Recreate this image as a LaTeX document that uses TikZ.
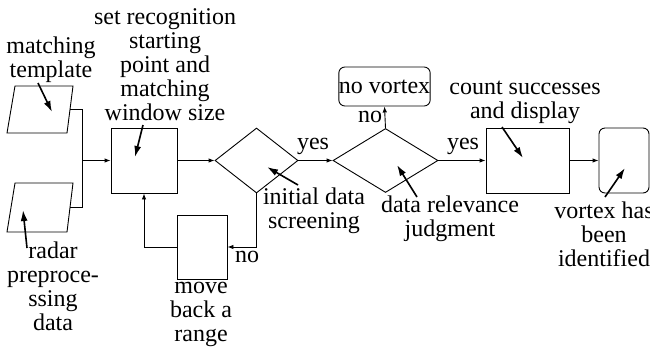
\documentclass[tikz,border=0pt]{standalone}
\usepackage{fontspec}
\setmainfont{Liberation Serif}
\usetikzlibrary{arrows.meta,shapes.geometric}

\tikzset{
  flowline/.style={line width=0.9pt,-{Latex[length=6pt,width=4.5pt]}},
  plainline/.style={line width=0.9pt},
  pointer/.style={line width=1.6pt,-{Latex[length=11pt,width=7pt]}},
  procbox/.style={draw,line width=0.9pt,rectangle,inner sep=0pt},
  endbox/.style={draw,line width=0.9pt,rectangle,rounded corners=6pt,inner sep=0pt},
  decision/.style={draw,line width=0.9pt,diamond,inner sep=0pt},
  inputline/.style={line width=0.9pt,line join=miter},
  lbl/.style={inner sep=0pt,align=center,font=\fontsize{24}{24}\selectfont},
  tag/.style={inner sep=0pt,font=\fontsize{24}{24}\selectfont},
}

\begin{document}
\begin{tikzpicture}[x=1pt,y=-1pt]
\useasboundingbox (0,0) rectangle (650,349);
\clip (0,0) rectangle (650,349);

% input data blocks (parallelograms)
\draw[inputline] (15,86) -- (73,86) -- (67,133) -- (7,133) -- cycle;
\coordinate (tplE) at (70,109.5);
\draw[inputline] (15,183) -- (73,183) -- (67,232) -- (7,232) -- cycle;
\coordinate (radE) at (70,207.5);

% process chain
\node[procbox,minimum width=66pt,minimum height=65pt] (setbox) at (144,160.5) {};
\node[decision,minimum width=83pt,minimum height=65pt] (dia1) at (256.5,160.5) {};
\node[decision,minimum width=105pt,minimum height=64pt] (dia2) at (385.5,160.5) {};
\node[endbox,minimum width=91pt,minimum height=39pt,font=\fontsize{24}{24}\selectfont]
  (novortex) at (384.5,86.5) {no vortex};
\node[procbox,minimum width=83pt,minimum height=65pt] (count) at (527.5,160.5) {};
\node[endbox,minimum width=50pt,minimum height=65pt] (final) at (624,160.5) {};
\node[procbox,minimum width=50pt,minimum height=64pt] (moveback) at (202,247) {};

% flow connectors
\coordinate (join) at (82,160.5);
\draw[plainline] (tplE) -| (join);
\draw[plainline] (radE) -| (join);
\draw[flowline] (join) -- (setbox.west);
\draw[flowline] (setbox.east) -- (dia1.west);
\draw[flowline] (dia1.east) -- (dia2.west);
\draw[flowline] (dia2.north) -- (novortex.south);
\draw[flowline] (dia2.east) -- (count.west);
\draw[flowline] (count.east) -- (final.west);
\draw[flowline] (dia1.south) |- (moveback.east);
\draw[flowline] (moveback.west) -| (setbox.south);

% branch tags
\node[tag] (yes1) at (313,146) {yes};
\node[tag] (yes2) at (463,146) {yes};
\node[tag] (no1) at (370,117) {no};
\node[tag] (no2) at (247,257) {no};

% descriptive labels
\node[lbl] (tplText) at (51,60) {matching\\template};
\node[lbl] (setText) at (165,65) {set recognition\\starting\\point and\\matching\\window size};
\node[lbl] (radText) at (53,286) {radar\\preproce-\\ssing\\data};
\node[lbl] (moveText) at (201,314) {move\\back a\\range};
\node[lbl] (initText) at (314,211) {initial data\\screening};
\node[lbl] (relText) at (450,219) {data relevance\\judgment};
\node[lbl] (countText) at (525,102) {count successes\\and display};
\node[lbl] (vortText) at (604,234.5) {vortex has\\been\\identified};

% pointer arrows from labels into blocks
\coordinate (p1a) at (38,83);   \coordinate (p1b) at (52,112);
\coordinate (p2a) at (143,125); \coordinate (p2b) at (135,157);
\coordinate (p3a) at (27,248);  \coordinate (p3b) at (23,210);
\coordinate (p4a) at (298,185); \coordinate (p4b) at (267,167);
\coordinate (p5a) at (417,197); \coordinate (p5b) at (397,165);
\coordinate (p6a) at (502,127); \coordinate (p6b) at (523,158);
\coordinate (p7a) at (605,197); \coordinate (p7b) at (625,168);
\draw[pointer] (p1a) -- (p1b);
\draw[pointer] (p2a) -- (p2b);
\draw[pointer] (p3a) -- (p3b);
\draw[pointer] (p4a) -- (p4b);
\draw[pointer] (p5a) -- (p5b);
\draw[pointer] (p6a) -- (p6b);
\draw[pointer] (p7a) -- (p7b);
\end{tikzpicture}
\end{document}
